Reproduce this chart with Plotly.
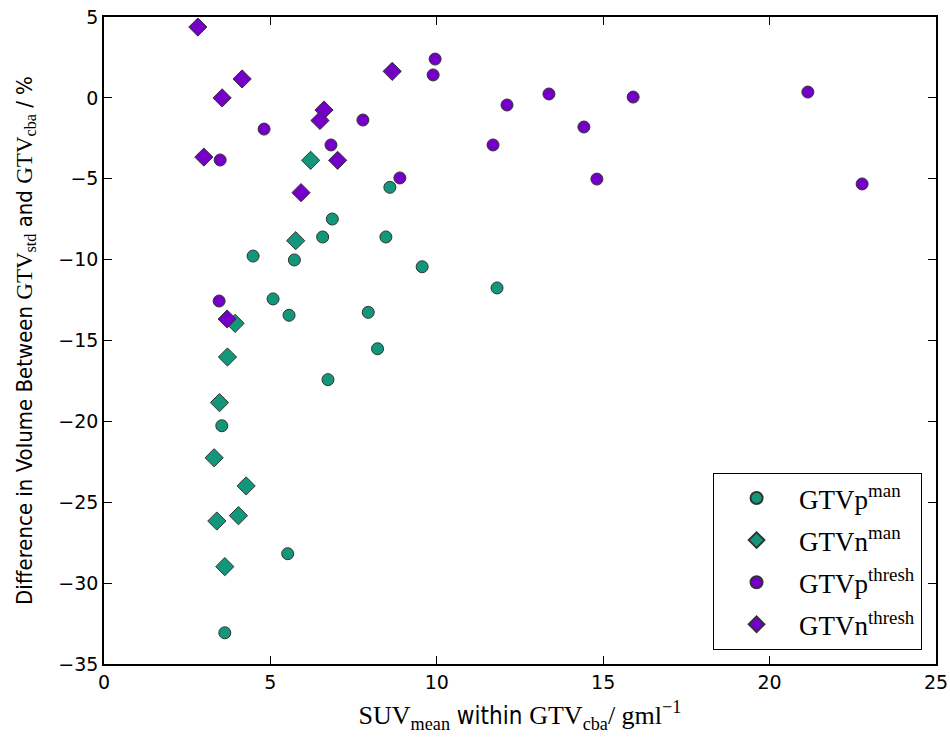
import plotly.graph_objects as go

# GTVp^man (teal circles)
p_man_x = [8.59, 6.86, 6.57, 8.47, 4.48, 5.72, 9.56, 5.08, 5.56, 7.94, 8.22, 6.73, 3.54, 11.81, 5.52, 3.63]
p_man_y = [-5.53, -7.49, -8.60, -8.60, -9.78, -10.02, -10.44, -12.43, -13.44, -13.26, -15.51, -17.42, -20.27, -11.75, -28.18, -33.07]

# GTVn^man (teal diamonds)
n_man_x = [6.21, 5.76, 3.94, 3.71, 3.47, 3.31, 4.27, 3.39, 4.04, 3.63]
n_man_y = [-3.86, -8.83, -13.94, -16.02, -18.84, -22.25, -23.99, -26.16, -25.83, -28.98]

# GTVp^thresh (purple circles)
p_thr_x = [4.81, 3.49, 6.82, 7.78, 8.89, 9.89, 9.95, 12.11, 11.69, 13.37, 14.42, 14.81, 15.90, 21.15, 22.78, 3.46]
p_thr_y = [-1.93, -3.84, -2.91, -1.37, -4.95, 1.42, 2.40, -0.44, -2.91, 0.24, -1.80, -5.02, 0.05, 0.36, -5.32, -12.56]

# GTVn^thresh (purple diamonds)
n_thr_x = [2.82, 3.00, 3.55, 4.15, 6.61, 6.49, 7.02, 5.92, 8.66, 3.70]
n_thr_y = [4.38, -3.66, 0.00, 1.17, -0.75, -1.40, -3.86, -5.86, 1.64, -13.67]

x_ticks = [0, 5, 10, 15, 20, 25]
y_ticks = [5, 0, -5, -10, -15, -20, -25, -30, -35]

TEAL = "#13977b"
PURPLE = "#7400c8"
EDGE = "#333333"
SERIF = "Liberation Serif, DejaVu Serif, serif"
SANS = "DejaVu Sans Condensed, Liberation Sans Narrow, DejaVu Sans, sans-serif"

fig = go.Figure()

def add(x, y, color, symbol, name, group):
    fig.add_trace(go.Scatter(
        x=x, y=y, mode="markers", name=name, legendgroup=group,
        marker=dict(color=color, symbol=symbol, size=12 if symbol == "circle" else 14,
                    line=dict(color=EDGE, width=1)),
    ))

add(p_man_x, p_man_y, TEAL, "circle", "GTVp<sup>man</sup>", "a")
add(n_man_x, n_man_y, TEAL, "diamond", "GTVn<sup>man</sup>", "b")
add(p_thr_x, p_thr_y, PURPLE, "circle", "GTVp<sup>thresh</sup>", "c")
add(n_thr_x, n_thr_y, PURPLE, "diamond", "GTVn<sup>thresh</sup>", "d")

def tick_text(v):
    return str(v).replace("-", "\u2212")

fig.update_layout(
    width=950, height=737,
    margin=dict(l=104, r=14, t=17, b=73),
    paper_bgcolor="white", plot_bgcolor="white",
    font=dict(family="DejaVu Sans, sans-serif", size=18, color="black"),
    showlegend=True,
    legend=dict(
        x=0.983, y=0.022, xanchor="right", yanchor="bottom",
        bgcolor="white", bordercolor="black", borderwidth=1.2,
        font=dict(family=SERIF, size=27, color="black"),
        itemsizing="constant", tracegroupgap=4, itemwidth=75,
        entrywidth=225, entrywidthmode="pixels",
    ),
    xaxis=dict(
        range=[0, 25], tickvals=x_ticks, ticktext=[tick_text(v) for v in x_ticks],
        showline=True, linecolor="black", linewidth=1.5, mirror="ticks",
        ticks="inside", ticklen=8, tickcolor="black", tickwidth=1,
        showgrid=False, zeroline=False, automargin=False,
        tickfont=dict(family="DejaVu Sans, sans-serif", size=19),
        title=dict(
            text=(f"<span style='font-family:{SERIF};font-size:26px'>SUV<sub>mean</sub></span>"
                  f" within <span style='font-family:{SERIF};font-size:26px'>GTV<sub>cba</sub>/ gml<sup>\u22121</sup></span>"),
            font=dict(family=SANS, size=24), standoff=16,
        ),
    ),
    yaxis=dict(
        range=[-35, 5], tickvals=y_ticks, ticktext=[tick_text(v) for v in y_ticks],
        showline=True, linecolor="black", linewidth=1.5, mirror="ticks",
        ticks="inside", ticklen=8, tickcolor="black", tickwidth=1,
        showgrid=False, zeroline=False, automargin=False,
        tickfont=dict(family="DejaVu Sans, sans-serif", size=19),
        title=dict(
            text=(f"Difference in Volume Between <span style='font-family:{SERIF};font-size:23px'>GTV<sub>std</sub></span>"
                  f" and <span style='font-family:{SERIF};font-size:23px'>GTV<sub>cba</sub></span> / %"),
            font=dict(family=SANS, size=22), standoff=20,
        ),
    ),
)

fig.write_html("out.html")
